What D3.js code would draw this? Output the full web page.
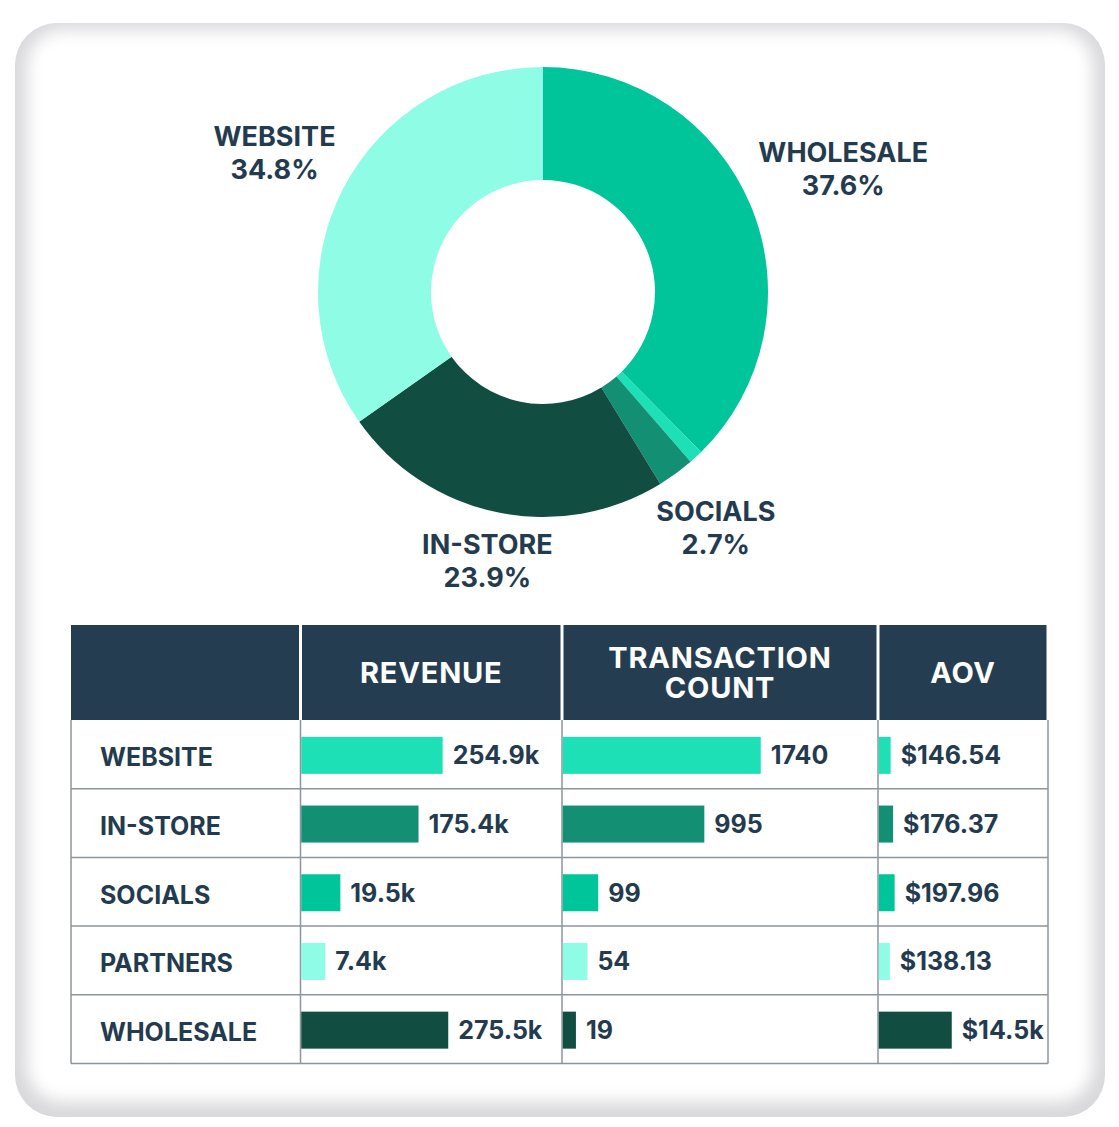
<!DOCTYPE html>
<html>
<meta charset="utf-8">
<head>
    <script src="https://d3js.org/d3.v7.min.js"></script>
    <style>
        body { margin: 0; background: #fff; }
        text { font-family: Inter, "Noto Sans", sans-serif; font-weight: 700; }
    </style>
</head>
<body>
    <script>
        // table rows
        var channels = ["WEBSITE", "IN-STORE", "SOCIALS", "PARTNERS", "WHOLESALE"];
        var revenue = [254.9, 175.4, 19.5, 7.4, 275.5];           // thousands
        var transactions = [1740, 995, 99, 54, 19];
        var aov = [146.54, 176.37, 197.96, 138.13, 14500];
        var barColors = ["#1de0b7", "#138f74", "#00c49a", "#8ffce5", "#124d42"];

        // donut: order clockwise from 12 o'clock
        var pieOrder = ["WHOLESALE", "PARTNERS", "SOCIALS", "IN-STORE", "WEBSITE"];
        var pieColors = ["#00c49a", "#1de0b7", "#138f74", "#124d42", "#8ffce5"];
        var pieLabelled = ["WHOLESALE", "SOCIALS", "IN-STORE", "WEBSITE"];

        var headers = [[""], ["REVENUE"], ["TRANSACTION", "COUNT"], ["AOV"]];

        var width = 1119, height = 1127;
        var ink = "#243b4f";

        var svg = d3.select("body").append("svg")
            .attr("width", width)
            .attr("height", height);

        // card with soft edge
        var defs = svg.append("defs");
        defs.append("filter").attr("id", "soft")
            .attr("x", "-5%").attr("y", "-5%").attr("width", "110%").attr("height", "110%")
            .append("feGaussianBlur").attr("stdDeviation", 8);
        defs.append("clipPath").attr("id", "cardclip")
            .append("rect")
            .attr("x", 15).attr("y", 23).attr("width", 1090).attr("height", 1094).attr("rx", 42);

        var card = svg.append("g").attr("clip-path", "url(#cardclip)");
        card.append("rect")
            .attr("x", 15).attr("y", 23).attr("width", 1090).attr("height", 1094)
            .attr("fill", "#d9d9dc");
        card.append("rect")
            .attr("x", 27).attr("y", 30).attr("width", 1066).attr("height", 1072).attr("rx", 36)
            .attr("fill", "#fff")
            .attr("filter", "url(#soft)");

        // ---- donut ----
        var cx = 543, cy = 292, outerR = 225, innerR = 112;
        var total = d3.sum(revenue);
        var pieData = pieOrder.map(function(name, i) {
            return { name: name, value: revenue[channels.indexOf(name)], color: pieColors[i] };
        });

        var pie = d3.pie().sort(null).value(function(d) { return d.value; });
        var arc = d3.arc().innerRadius(innerR).outerRadius(outerR);
        var arcs = pie(pieData);

        var donut = svg.append("g").attr("transform", "translate(" + cx + "," + cy + ")");
        donut.selectAll("path")
            .data(arcs)
            .enter()
            .append("path")
            .attr("d", arc)
            .attr("fill", function(d) { return d.data.color; });

        var pct = d3.format(".1f");
        var labelR = 236;
        arcs.filter(function(d) { return pieLabelled.indexOf(d.data.name) >= 0; })
            .forEach(function(d) {
                var a = (d.startAngle + d.endAngle) / 2;
                var dx = Math.sin(a), dy = -Math.cos(a);
                var g = donut.append("g");
                g.append("text")
                    .attr("text-anchor", "middle")
                    .attr("font-size", 27)
                    .attr("fill", ink)
                    .attr("y", 0)
                    .text(d.data.name);
                g.append("text")
                    .attr("text-anchor", "middle")
                    .attr("font-size", 27)
                    .attr("fill", ink)
                    .attr("y", 33)
                    .text(pct(d.value / total * 100) + "%");
                var bb = g.node().getBBox();
                // push the label box out until it clears the ring
                var off = bb.width / 2 * Math.abs(dx) + bb.height * 0.4 * Math.abs(dy);
                var px = (labelR + off) * dx, py = (labelR + off) * dy;
                g.attr("transform", "translate(" + (px - (bb.x + bb.width / 2)) + "," + (py - (bb.y + bb.height / 2)) + ")");
            });

        // ---- table ----
        var colEdges = [71, 300.5, 562, 878, 1048];
        var headTop = 625, headBottom = 720, tableBottom = 1063.5;

        var y = d3.scaleBand()
            .domain(channels)
            .range([headBottom, tableBottom]);

        var table = svg.append("g");

        headers.forEach(function(lines, i) {
            table.append("rect")
                .attr("x", colEdges[i] + (i === 0 ? 0 : 1.5))
                .attr("y", headTop)
                .attr("width", colEdges[i + 1] - colEdges[i] - (i === 0 ? 1.5 : 3))
                .attr("height", headBottom - headTop)
                .attr("fill", "#253d51");
            var mid = (colEdges[i] + colEdges[i + 1]) / 2;
            var txt = table.append("text")
                .attr("text-anchor", "middle")
                .attr("font-size", 29)
                .attr("letter-spacing", 0.8)
                .attr("fill", "#fff");
            lines.forEach(function(t, j) {
                txt.append("tspan")
                    .attr("x", mid)
                    .attr("y", (headTop + headBottom) / 2 + 10 + (j - (lines.length - 1) / 2) * 30)
                    .text(t);
            });
        });

        var grid = "#8c959c";
        channels.forEach(function(c) {
            table.append("line")
                .attr("x1", colEdges[0]).attr("x2", colEdges[4])
                .attr("y1", y(c) + y.bandwidth()).attr("y2", y(c) + y.bandwidth())
                .attr("stroke", grid).attr("stroke-width", 1.5);
        });
        colEdges.forEach(function(x) {
            table.append("line")
                .attr("x1", x).attr("x2", x)
                .attr("y1", headBottom).attr("y2", tableBottom)
                .attr("stroke", grid).attr("stroke-width", 1.5);
        });

        table.selectAll(".rowlabel")
            .data(channels)
            .enter()
            .append("text")
            .attr("x", 100)
            .attr("y", function(d) { return y(d) + y.bandwidth() / 2 + 12; })
            .attr("font-size", 25)
            .attr("fill", ink)
            .text(function(d) { return d; });

        var fmtMoney = function(v) {
            return v >= 1000 ? "$" + (v / 1000).toFixed(1) + "k" : "$" + v.toFixed(2);
        };
        var columns = [
            { values: revenue, scale: d3.scaleSqrt().domain([0, 275.5]).range([0, 147]),
              fmt: function(v) { return v.toFixed(1) + "k"; } },
            { values: transactions, scale: d3.scalePow().exponent(0.6).domain([0, 1740]).range([0, 198]),
              fmt: function(v) { return String(v); } },
            { values: aov, scale: d3.scaleLog().domain([60, 14500]).range([0, 73]),
              fmt: fmtMoney }
        ];

        var barH = 37;
        columns.forEach(function(col, ci) {
            var x0 = colEdges[ci + 1] + 0.75;
            channels.forEach(function(c, i) {
                var w = col.scale(col.values[i]);
                var yc = y(c) + y.bandwidth() / 2 + 1;
                table.append("rect")
                    .attr("x", x0)
                    .attr("y", yc - barH / 2)
                    .attr("width", w)
                    .attr("height", barH)
                    .attr("fill", barColors[i]);
                table.append("text")
                    .attr("x", x0 + w + 10)
                    .attr("y", yc + 9)
                    .attr("font-size", 25)
                    .attr("fill", ink)
                    .text(col.fmt(col.values[i]));
            });
        });
    </script>
</body>
</html>
